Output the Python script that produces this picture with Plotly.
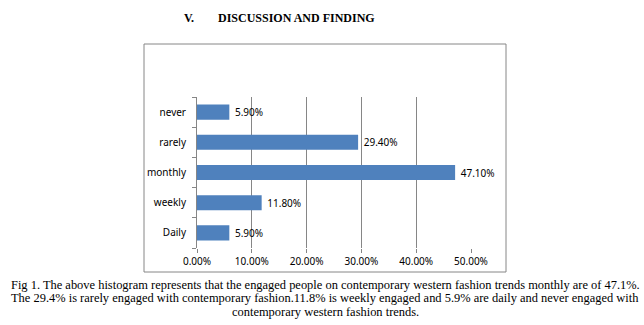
import plotly.graph_objects as go

categories = ["Daily", "weekly", "monthly", "rarely", "never"]
values = [0.059, 0.118, 0.471, 0.294, 0.059]
value_labels = ["5.90%", "11.80%", "47.10%", "29.40%", "5.90%"]
x_ticks = [0, 0.1, 0.2, 0.3, 0.4, 0.5]

heading_num = "V."
heading = "DISCUSSION AND FINDING"
caption = [
    "Fig 1. The above histogram represents that the engaged people on contemporary western fashion trends monthly are of 47.1%.",
    "The 29.4% is rarely engaged with contemporary fashion.11.8% is weekly engaged and 5.9% are daily and never engaged with",
    "contemporary western fashion trends.",
]

W, H = 644, 325
L, R, T, B = 197, 471, 97, 248

def px(x):
    return (x - L) / (R - L)

def py(y):
    return (B - y) / (B - T)

fig = go.Figure()
fig.add_trace(go.Bar(
    x=values, y=categories, orientation="h",
    marker=dict(color="#4F81BD", line=dict(width=0)),
    text=["\u00a0" + t for t in value_labels], textposition="outside", cliponaxis=False,
    textfont=dict(family="Noto Sans", size=10, color="#000000"),
))

grid = "#868686"
fig.update_layout(
    width=W, height=H,
    margin=dict(l=L, r=W - R, t=T, b=H - B),
    paper_bgcolor="white", plot_bgcolor="white",
    bargap=0.5, showlegend=False,
    font=dict(family="Noto Sans", size=10, color="#000000"),
    xaxis=dict(range=[0, 0.5], tickvals=x_ticks, tickformat=".2%",
               showgrid=True, gridcolor=grid, gridwidth=1,
               zeroline=False, showline=False,
               ticks="outside", ticklen=4, tickcolor=grid,
               tickfont=dict(family="Noto Sans", size=10, color="#000000")),
    yaxis=dict(categoryorder="array", categoryarray=categories,
               showline=True, linecolor=grid, linewidth=1,
               ticks="outside", tickson="boundaries", ticklen=4, tickcolor=grid,
               ticklabelstandoff=8,
               showgrid=False, zeroline=False,
               tickfont=dict(family="Noto Sans", size=10, color="#000000")),
)

fig.add_shape(type="rect", xref="paper", yref="paper",
              x0=px(144), x1=px(506), y0=py(272), y1=py(44),
              line=dict(color=grid, width=1), fillcolor="rgba(0,0,0,0)")

serif = "Liberation Serif"
fig.add_annotation(text="<b>" + heading_num + "</b>", xref="paper", yref="paper",
                   x=px(182), y=py(18), xanchor="left", yanchor="middle",
                   showarrow=False, font=dict(family=serif, size=12, color="#000000"))
fig.add_annotation(text="<b>" + heading + "</b>", xref="paper", yref="paper",
                   x=px(216), y=py(18), xanchor="left", yanchor="middle",
                   showarrow=False, font=dict(family=serif, size=12, color="#000000"))
for line, yy in zip(caption, [285, 298, 312]):
    fig.add_annotation(text=line, xref="paper", yref="paper",
                       x=px(325), y=py(yy), xanchor="center", yanchor="middle",
                       showarrow=False, font=dict(family=serif, size=12.45, color="#000000"))

fig.write_html("out.html")
